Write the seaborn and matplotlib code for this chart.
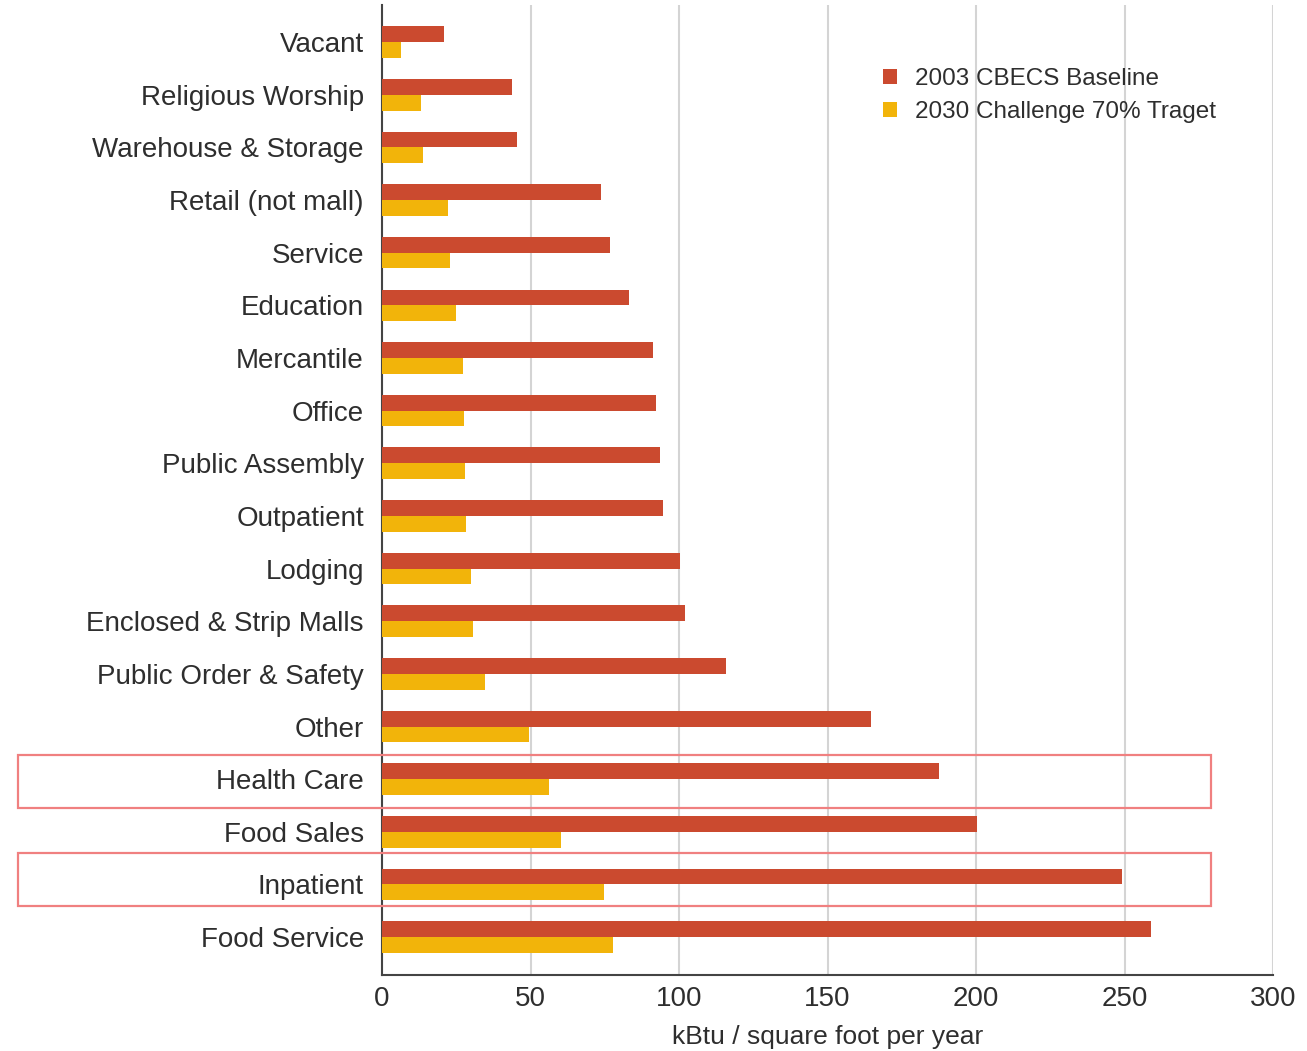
import matplotlib
matplotlib.use("Agg")
import matplotlib.pyplot as plt
import seaborn as sns
import pandas as pd
from matplotlib.patches import Rectangle
from matplotlib.transforms import blended_transform_factory

categories = ["Vacant", "Religious Worship", "Warehouse & Storage", "Retail (not mall)",
              "Service", "Education", "Mercantile", "Office", "Public Assembly",
              "Outpatient", "Lodging", "Enclosed & Strip Malls", "Public Order & Safety",
              "Other", "Health Care", "Food Sales", "Inpatient", "Food Service"]
baseline = [20.9, 43.8, 45.5, 73.7, 76.8, 83.2, 91.2, 92.3, 93.6, 94.6, 100.3, 102.0,
            115.8, 164.6, 187.5, 200.3, 249.2, 258.9]
target = [6.3, 13.1, 13.7, 22.1, 23.0, 25.0, 27.4, 27.7, 28.1, 28.4, 30.1, 30.6,
          34.7, 49.4, 56.3, 60.1, 74.8, 77.7]
series_names = ["2003 CBECS Baseline", "2030 Challenge 70% Traget"]
highlighted = ["Health Care", "Inpatient"]
xticks = [0, 50, 100, 150, 200, 250, 300]
xlabel = "kBtu / square foot per year"

df = pd.DataFrame({
    "category": categories * 2,
    "value": baseline + target,
    "series": [series_names[0]] * len(categories) + [series_names[1]] * len(categories),
})

sns.set_theme(style="white")
plt.rcParams["font.family"] = ["Liberation Sans", "DejaVu Sans"]
text_color = "#2e2e2e"

fig = plt.figure(figsize=(13.07, 10.51), dpi=100)
ax = fig.add_axes([0.2923, 0.0723, 0.974 - 0.2923, 0.995 - 0.0723])

palette = {series_names[0]: "#CB4A2F", series_names[1]: "#F2B40A"}
sns.barplot(data=df, y="category", x="value", hue="series", order=categories,
            hue_order=series_names, palette=palette, orient="h", width=0.6,
            gap=0, saturation=1, ax=ax, linewidth=0, zorder=3)

ax.set_xlim(0, 300)
ax.set_ylim(len(categories) - 1 + 0.72, -0.70)
ax.set_xticks(xticks)
ax.set_xticklabels([str(t) for t in xticks], fontsize=20, color=text_color)
ax.tick_params(axis="y", labelsize=20, labelcolor=text_color, length=0, pad=13)
ax.tick_params(axis="x", length=0, pad=8)
ax.set_ylabel("")
ax.set_xlabel(xlabel, fontsize=19, color=text_color, labelpad=9)

ax.xaxis.grid(True, color="#d4d4d4", linewidth=1.5, zorder=0)
ax.yaxis.grid(False)
for s in ["top", "right"]:
    ax.spines[s].set_visible(False)
ax.spines["left"].set_color("#444444")
ax.spines["left"].set_linewidth(1.5)
ax.spines["bottom"].set_color("#444444")
ax.spines["bottom"].set_linewidth(1.5)

leg = ax.legend(loc="upper right", bbox_to_anchor=(0.96, 0.958), frameon=False,
                fontsize=17.5, handlelength=0.6, handleheight=0.6, handletextpad=0.7,
                labelspacing=0.45)
for t in leg.get_texts():
    t.set_color(text_color)

trans = blended_transform_factory(ax.transAxes, ax.transData)
x0 = (18 - 382) / 891
x1 = (1211 - 382) / 891
rect_shift = [0.05, -0.1]
for name, sh in zip(highlighted, rect_shift):
    i = categories.index(name)
    rect = Rectangle((x0, i - 0.5 + sh), x1 - x0, 1.0, transform=trans, fill=False,
                     edgecolor="#F08080", linewidth=1.6, clip_on=False, zorder=5)
    ax.add_patch(rect)

fig.savefig("out.png", dpi=100, facecolor="white")
